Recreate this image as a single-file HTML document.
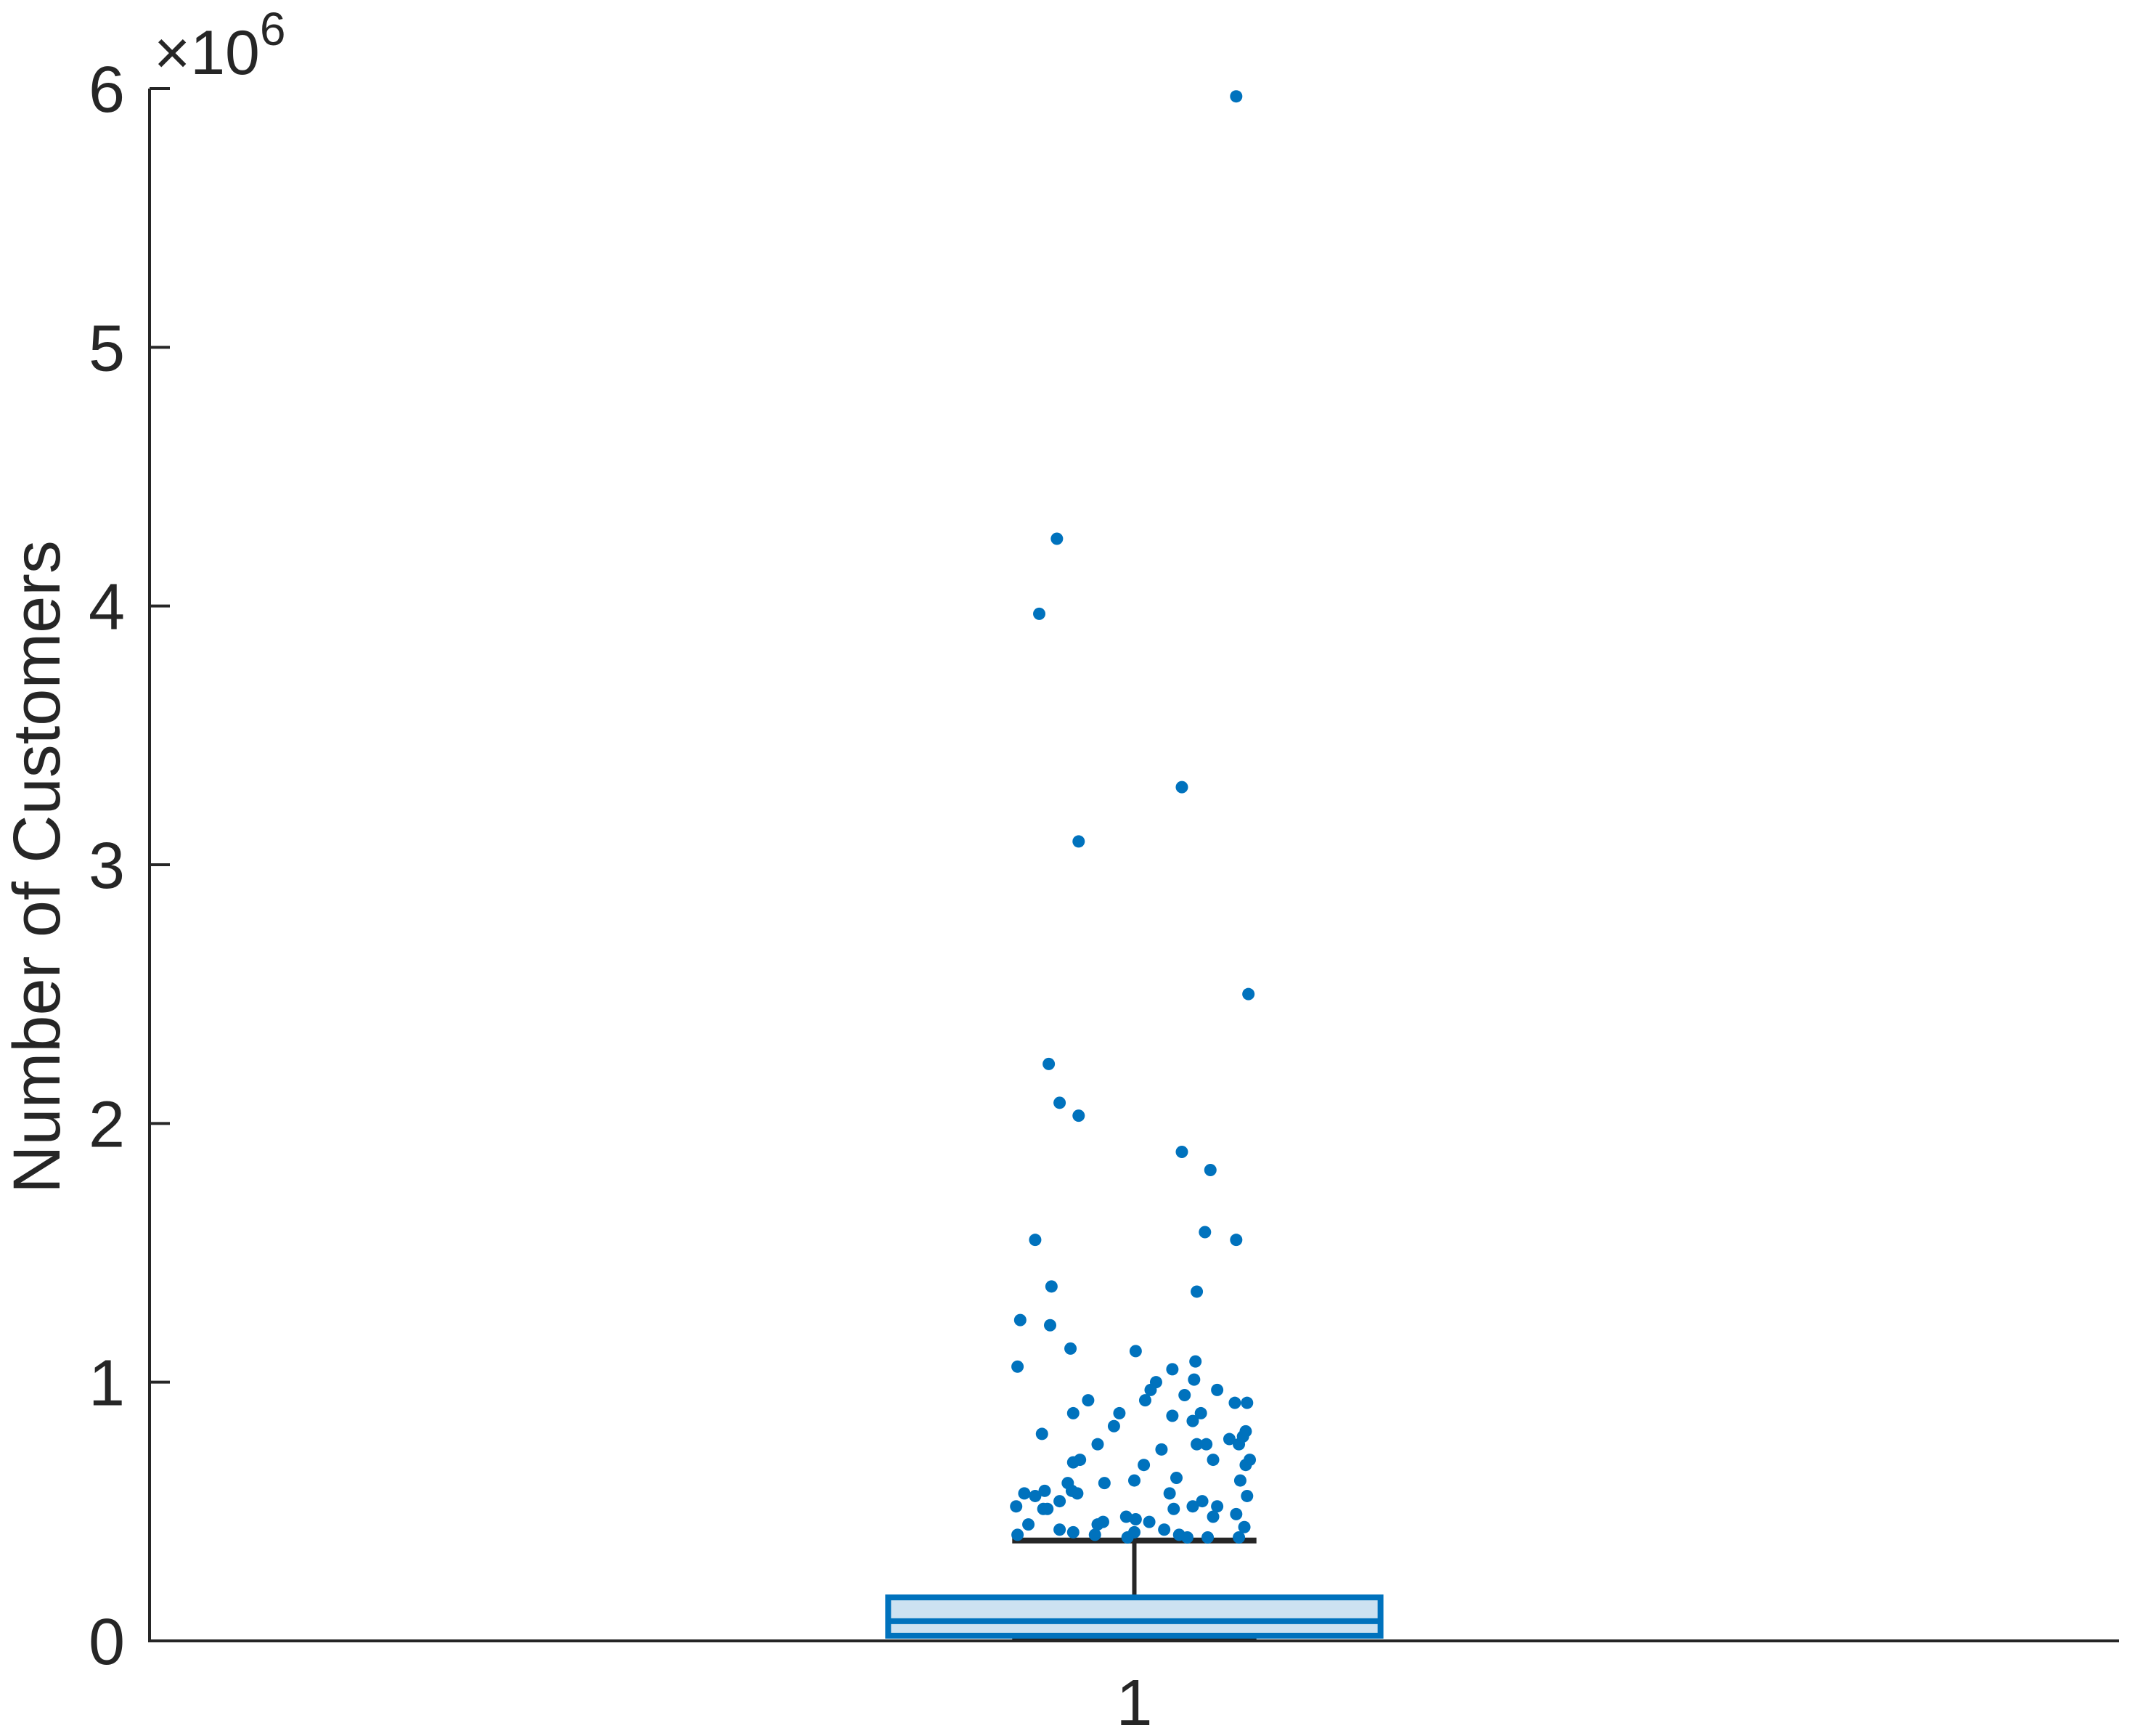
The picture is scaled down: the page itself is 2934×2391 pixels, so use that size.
<!DOCTYPE html>
<html><head><meta charset="utf-8"><style>
html,body{margin:0;padding:0;background:#fff;}
svg{display:block;font-family:"Liberation Sans",Arial,sans-serif;}
</style></head><body>
<svg id="chart" width="2934" height="2391" viewBox="0 0 2934 2391" xmlns="http://www.w3.org/2000/svg">
<g id="axes"></g>
<g id="marks"></g>
<text x="0" y="0" transform="translate(82,1194) rotate(-90)" font-size="92" fill="#262626" text-anchor="middle">Number of Customers</text>
<text x="212" y="102" font-size="86" fill="#262626">×10<tspan font-size="64" dy="-40">6</tspan></text>
</svg>
<script>
const categories = ["1"];
const yTicks = [0,1,2,3,4,5,6];
const q1 = [0.02];
const median = [0.076];
const q3 = [0.168];
const whiskerLow = [0.0];
const whiskerHigh = [0.388];
// outliers: jitter offset (display px from center) and value (millions)
const outJitter = [75,-57,-70,35,-41,84,-63,-55,-41,35,56,-73,52,75,-61,46,-84,-62,-47,1,-86,28,45,16,12,44,61,37,83,74,-34,8,49,-45,-11,28,43,-15,-68,82,80,70,46,53,77,-27,20,-40,-45,7,85,82,58,78,0,31,-22,-49,-81,-73,-87,-66,-46,-67,-55,-42,26,83,50,61,29,43,75,58,-6,1,-27,-23,-78,11,81,22,-45,-86,33,-29,0,39,-5,54,77,-55,-64];
const outValues = [5.97,4.26,3.97,3.30,3.09,2.50,2.23,2.08,2.03,1.89,1.82,1.55,1.58,1.55,1.37,1.35,1.24,1.22,1.13,1.12,1.06,1.05,1.08,1.00,0.97,1.01,0.97,0.95,0.92,0.92,0.93,0.93,0.88,0.88,0.88,0.87,0.85,0.83,0.80,0.81,0.79,0.78,0.76,0.76,0.76,0.76,0.74,0.70,0.69,0.68,0.70,0.68,0.70,0.62,0.62,0.63,0.61,0.61,0.57,0.56,0.52,0.58,0.58,0.51,0.54,0.57,0.57,0.56,0.54,0.52,0.51,0.52,0.49,0.48,0.48,0.47,0.45,0.46,0.45,0.46,0.44,0.43,0.42,0.41,0.41,0.41,0.42,0.40,0.40,0.40,0.40,0.43,0.51];

const NS="http://www.w3.org/2000/svg";
const L=206,R=2919,T=122,B=2260;
const yMax=6;
function ys(v){return B-(v/yMax)*(B-T);}
function xs(c){return L+(c-0.5)*(R-L);}
function mk(tag,attrs,parent){const e=document.createElementNS(NS,tag);for(const k in attrs)e.setAttribute(k,attrs[k]);parent.appendChild(e);return e;}
const axes=document.getElementById('axes');
const marks=document.getElementById('marks');
const ink="#262626";
let e;
e=mk('line',{x1:L,y1:T,x2:L,y2:B+2,stroke:ink,'stroke-width':4},axes);


e=mk('line',{x1:L-2,y1:B,x2:R,y2:B,stroke:ink,'stroke-width':4},axes);


yTicks.forEach(t=>{
  const y=ys(t);
  let tk=mk('line',{x1:L,y1:y,x2:L+28,y2:y,stroke:ink,'stroke-width':4},axes);
  
  
  let lb=mk('text',{x:L-34,y:y+32,'font-size':90,fill:ink,'text-anchor':'end'},axes);
  lb.textContent=String(t);
  
  
});
categories.forEach((c,i)=>{
  const x=xs(i+1);
  let tk=mk('line',{x1:x,y1:B,x2:x,y2:B-28,stroke:ink,'stroke-width':4},axes);
  
  
  let lb=mk('text',{x:x,y:B+116,'font-size':90,fill:ink,'text-anchor':'middle'},axes);
  lb.textContent=c;
  
  
  const bw=0.125*(R-L), cw=0.062*(R-L);
  const blue="#0072BD";
  let w=mk('line',{x1:x,y1:ys(q3[i]),x2:x,y2:ys(whiskerHigh[i]),stroke:ink,'stroke-width':6},marks);
  
  
  let cap=mk('line',{x1:x-cw,y1:ys(whiskerHigh[i]),x2:x+cw,y2:ys(whiskerHigh[i]),stroke:ink,'stroke-width':8},marks);
  
  
  let capl=mk('line',{x1:x-cw,y1:ys(whiskerLow[i])-2,x2:x+cw,y2:ys(whiskerLow[i])-2,stroke:ink,'stroke-width':8},marks);
  
  
  let box=mk('rect',{x:x-bw,y:ys(q3[i]),width:2*bw,height:ys(q1[i])-ys(q3[i]),fill:"#cde2f1",stroke:blue,'stroke-width':8},marks);
  
  
  let md=mk('line',{x1:x-bw,y1:ys(median[i]),x2:x+bw,y2:ys(median[i]),stroke:blue,'stroke-width':8},marks);
  
  
  outValues.forEach((v,j)=>{
    let p=mk('circle',{cx:x+outJitter[j]*1.871,cy:ys(v),r:8.5,fill:blue},marks);
    
    
  });
});
</script>
</body></html>
